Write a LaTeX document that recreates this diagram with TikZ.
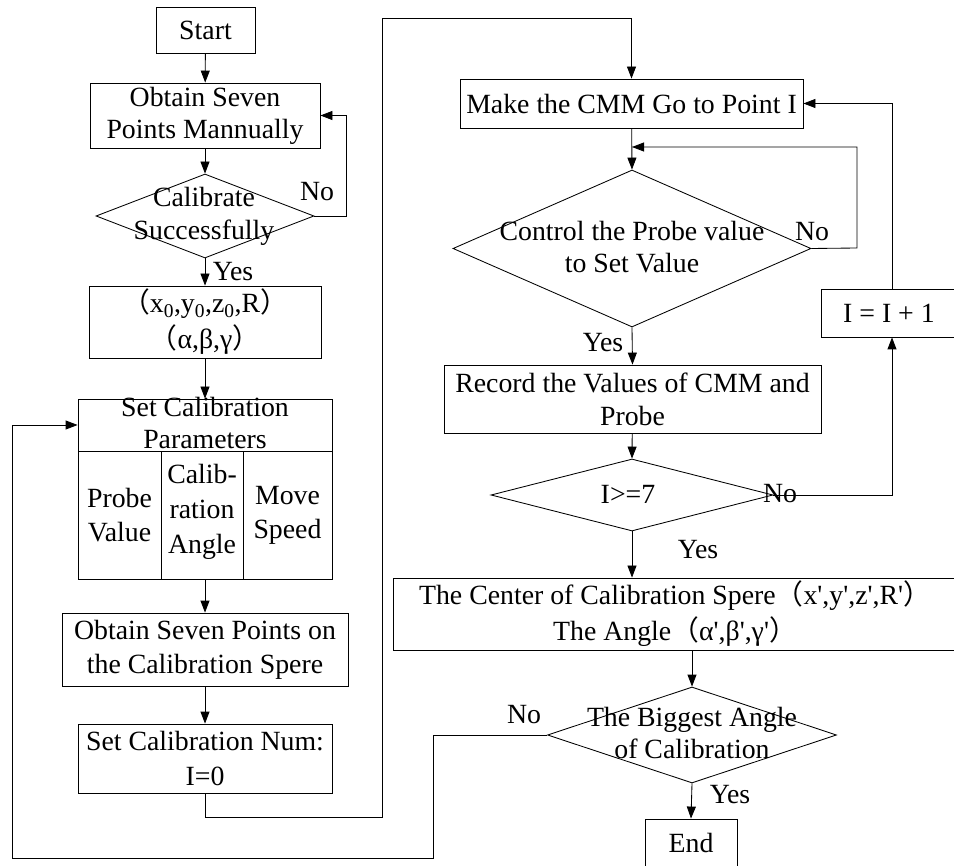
\documentclass[tikz,border=0pt]{standalone}
\usepackage{fontspec}
\setmainfont{Liberation Serif}
\newfontfamily\cjk{Noto Sans CJK SC}
\usetikzlibrary{shapes.geometric,arrows.meta}
\newcommand\pr{\textquotesingle}
\newcommand\lp{{\cjk （}}
\newcommand\rp{{\cjk ）}}
\begin{document}
\begin{tikzpicture}[x=1pt,y=-1pt,
  line width=0.85pt,
  every node/.style={font=\fontsize{27.8}{32}\selectfont},
  box/.style={draw, rectangle, inner sep=0pt, align=center},
  dia/.style={draw, diamond, inner sep=0pt},
  txt/.style={inner sep=0pt, align=center},
  lab/.style={inner sep=0pt},
  arr/.style={-{Triangle[length=12pt,width=9pt]}}]
\useasboundingbox (0,0) rectangle (954,866);
\clip (0,0) rectangle (954,866);

% left column
\node[box, minimum width=99pt, minimum height=46pt] (start) at (205.5,30) {Start};
\node[box, minimum width=230pt, minimum height=65pt] (obt1) at (205,115.5) {Obtain Seven\\Points Mannually};
\node[dia, minimum width=218pt, minimum height=84pt] (d1) at (205,216) {};
\node[txt, font=\fontsize{27.8}{33}\selectfont] (d1t) at (204,216.5) {Calibrate\\Successfully};
\node[box, minimum width=232pt, minimum height=72pt, font=\fontsize{27.8}{36}\selectfont] (res0) at (205,322)
  {\lp x\textsubscript{0},y\textsubscript{0},z\textsubscript{0},R\rp\\\lp α,β,γ\rp};
\node[box, minimum width=254pt, minimum height=52pt] (hdr) at (205,425) {};
\node[txt] (hdrt) at (205,423) {Set Calibration\\Parameters};
\node[box, minimum width=83pt, minimum height=128pt, font=\fontsize{27.8}{34}\selectfont] (col1) at (119.5,515) {Probe\\Value};
\node[box, minimum width=82pt, minimum height=128pt, font=\fontsize{27.8}{35}\selectfont] (col2) at (202,515) {};
\node[txt, font=\fontsize{27.8}{35}\selectfont] (col2t) at (202,512) {Calib-\\ration\\Angle};
\node[box, minimum width=89pt, minimum height=128pt, font=\fontsize{27.8}{34}\selectfont] (col3) at (287.5,515) {Move\\Speed};
\node[box, minimum width=286pt, minimum height=73pt, font=\fontsize{27.8}{34}\selectfont] (obt2) at (205,649.5) {Obtain Seven Points on\\the Calibration Spere};
\node[box, minimum width=254pt, minimum height=69pt, font=\fontsize{27.8}{35}\selectfont] (setnum) at (205,758.5) {Set Calibration Num:\\I=0};

% right column
\node[box, minimum width=343pt, minimum height=49pt] (make) at (631.5,103.5) {Make the CMM Go to Point I};
\node[dia, minimum width=358pt, minimum height=157pt] (d2) at (632,248.5) {};
\node[txt] (d2t) at (632,247) {Control the Probe value\\to Set Value};
\node[box, minimum width=377pt, minimum height=68pt, font=\fontsize{27.8}{33}\selectfont] (rec) at (632.5,399) {Record the Values of CMM and\\Probe};
\node[dia, minimum width=282pt, minimum height=72pt] (d3) at (632,495) {};
\node[txt] (d3t) at (628,494) {I>=7};
\node[box, minimum width=142pt, minimum height=48pt] (inc) at (892,313) {};
\node[txt] (inct) at (889,313) {I = I + 1};
\node[box, minimum width=564pt, minimum height=72pt, font=\fontsize{27.8}{36}\selectfont] (big) at (675,614)
  {The Center of Calibration Spere\lp x\pr,y\pr,z\pr,R\pr\rp\\The Angle\lp α\pr,β\pr,γ\pr\rp};
\node[dia, minimum width=289pt, minimum height=96pt] (d4) at (692,735) {};
\node[txt] (d4t) at (692,732.5) {The Biggest Angle\\of Calibration};
\node[box, minimum width=92pt, minimum height=52pt] (endbox) at (691,845) {};
\node[txt] (endt) at (691,842.5) {End};

% labels
\node[lab] (no1) at (317,192) {No};
\node[lab] (yes1) at (233,272) {Yes};
\node[lab] (no2) at (812,232) {No};
\node[lab] (yes2) at (603,343) {Yes};
\node[lab] (no3) at (780,494) {No};
\node[lab] (yes3) at (698,550) {Yes};
\node[lab] (no4) at (524,715) {No};
\node[lab] (yes4) at (730,795) {Yes};

% connectors
\coordinate (c1) at (346,216);
\coordinate (c2) at (205,817);
\coordinate (c3) at (382,18);
\coordinate (j1) at (632,147);
\coordinate (c4) at (857,248);
\coordinate (c5) at (433,858);
\coordinate (c6) at (12,858);

\draw[arr] (start) -- (obt1);
\draw[arr] (obt1) -- (d1.north);
\draw[arr] (d1.east) -- (c1) |- (obt1.east);
\draw[arr] (d1.south) -- (res0);
\draw[arr] (res0) -- (hdr);
\draw[arr] (obt2.north |- col2.south) -- (obt2.north);
\draw[arr] (obt2) -- (setnum);
\draw[arr] (setnum.south) -- (c2) -| (c3) -| (make.north);
\draw[arr] (make) -- (d2.north);
\draw[arr] (d2.east) -- (c4) |- (j1);
\draw[arr] (d2.south) -- (rec.north);
\draw[arr] (rec) -- (d3.north);
\draw[arr] (d3.east) -| (inc.south);
\draw[arr] (inc.north) |- (make.east);
\draw[arr] (d3.south) -- (d3.south |- big.north);
\draw[arr] (d4.north |- big.south) -- (d4.north);
\draw[arr] (d4.south) -- (endbox.north);
\draw[arr] (d4.west) -- (c5 |- d4.west) -- (c5) -- (c6) |- (hdr.west);
\end{tikzpicture}
\end{document}
